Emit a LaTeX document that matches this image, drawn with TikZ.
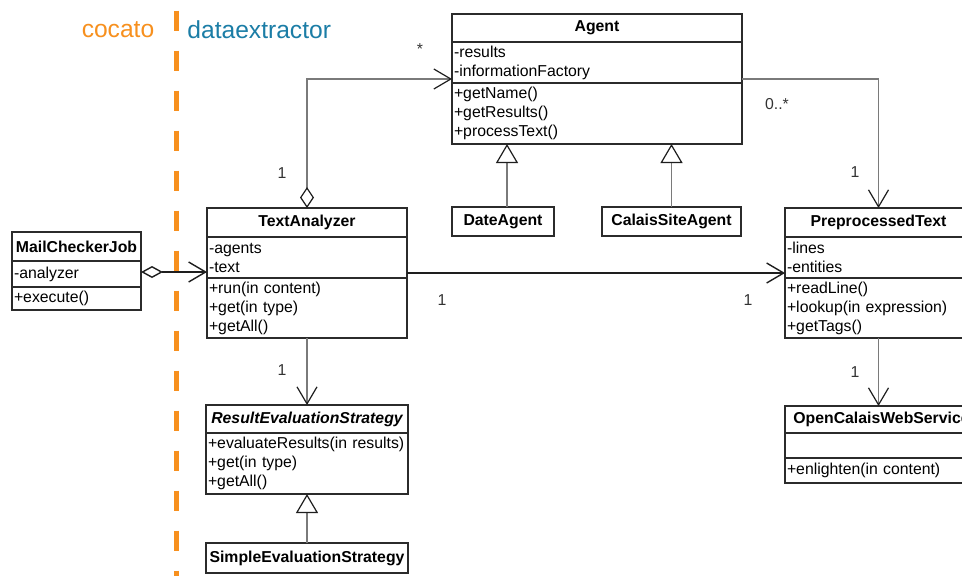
\documentclass[tikz,border=0pt]{standalone}
\usepackage{fontspec}
\setmainfont{Liberation Sans}
\usetikzlibrary{arrows.meta,calc}
\definecolor{boxc}{HTML}{2B2B2B}
\definecolor{connc}{HTML}{7A7A7A}
\definecolor{darkc}{HTML}{1E1E1E}
\definecolor{orangec}{HTML}{F7901E}
\definecolor{bluec}{HTML}{1B7DA6}
\definecolor{lblc}{HTML}{333333}
\tikzset{
  box/.style={draw=boxc, line width=0.9pt, inner sep=0pt, outer sep=0pt, anchor=north west},
  ttl/.style={box, font=\bfseries\fontsize{7.9}{9.5}\selectfont, align=center},
  mem/.style={box, font=\fontsize{7.9}{9.5}\selectfont, align=left, text width=#1, inner xsep=1pt},
  lbl/.style={font=\fontsize{7.9}{9.5}\selectfont, text=lblc, inner sep=0pt},
  barb/.tip={Straight Barb[length=8.5pt,width=10pt,color=darkc]},
  assoc/.style={draw=connc, line width=0.6pt, -barb},
  assocdark/.style={draw=darkc, line width=0.7pt, -barb},
  gen/.style={draw=connc, line width=0.6pt, -{Triangle[open, length=9.5pt, width=11pt, color=darkc]}},
}
\begin{document}
\begin{tikzpicture}[x=0.5pt,y=-0.5pt]
\path[use as bounding box, fill=white] (0,0) rectangle (962,575);
\clip (0,0) rectangle (962,575);

% package labels and separator
\node[font=\fontsize{12.3}{14}\selectfont, text=orangec, inner sep=0pt] (cocato) at (118,30) {cocato};
\node[font=\fontsize{12.3}{14}\selectfont, text=bluec, inner sep=0pt, anchor=west] (dataex) at (187,30) {dataextractor};
\draw[orangec, line width=2.5pt, dash pattern=on 10pt off 10pt] (176,10.5) -- (176,580);

% Agent
\node[ttl, minimum width=145pt, minimum height=14pt] (agent) at (452,14) {Agent};
\node[mem=143pt, minimum height=20.5pt] (agentA) at (agent.south west) {-results\\-informationFactory};
\node[mem=143pt, minimum height=30.5pt] (agentM) at (agentA.south west) {+getName()\\+getResults()\\+processText()};

% DateAgent, CalaisSiteAgent
\node[ttl, minimum width=51pt, minimum height=14.5pt] (da) at (452,207) {DateAgent};
\node[ttl, minimum width=69.5pt, minimum height=14.5pt] (csa) at (602,207) {CalaisSiteAgent};

% TextAnalyzer
\node[ttl, minimum width=100pt, minimum height=14.5pt] (ta) at (207,208) {TextAnalyzer};
\node[mem=98pt, minimum height=20.5pt] (taA) at (ta.south west) {-agents\\-text};
\node[mem=98pt, minimum height=30pt] (taM) at (taA.south west) {+run(in content)\\+get(in type)\\+getAll()};

% MailCheckerJob
\node[ttl, minimum width=64.5pt, minimum height=14.5pt] (mcj) at (12,232) {MailCheckerJob};
\node[mem=62.5pt, minimum height=13pt] (mcjA) at (mcj.south west) {-analyzer};
\node[mem=62.5pt, minimum height=11.5pt] (mcjM) at (mcjA.south west) {+execute()};

% ResultEvaluationStrategy
\node[ttl, font=\bfseries\itshape\fontsize{7.9}{9.5}\selectfont, minimum width=101pt, minimum height=14pt] (res) at (206,405) {ResultEvaluationStrategy};
\node[mem=99pt, minimum height=30.5pt] (resM) at (res.south west) {+evaluateResults(in results)\\+get(in type)\\+getAll()};

% SimpleEvaluationStrategy
\node[ttl, minimum width=101pt, minimum height=15pt] (ses) at (206,543) {SimpleEvaluationStrategy};

% PreprocessedText
\node[ttl, minimum width=93.5pt, minimum height=14.5pt] (pt) at (785,208) {PreprocessedText};
\node[mem=91.5pt, minimum height=20.5pt] (ptA) at (pt.south west) {-lines\\-entities};
\node[mem=91.5pt, minimum height=30pt] (ptM) at (ptA.south west) {+readLine()\\+lookup(in expression)\\+getTags()};

% OpenCalaisWebService (cut off at the right edge, as in the reference)
\node[ttl, minimum width=96.5pt, minimum height=13.5pt] (oc) at (785,406) {OpenCalaisWebService};
\node[mem=94.5pt, minimum height=12.5pt] (ocA) at (oc.south west) {};
\node[mem=94.5pt, minimum height=12.5pt] (ocM) at (ocA.south west) {+enlighten(in content)};

% connectors
\draw[assocdark, {Diamond[open, length=11pt, width=6pt, color=darkc]}-barb]
  ([yshift=1pt]mcjA.east) -- ([yshift=1pt]mcjA.east -| ta.west);
\draw[assoc, {Diamond[open, length=10.5pt, width=7pt, color=darkc]}-barb]
  (ta.north) |- ([yshift=2pt]agentA.south west);
\draw[assoc] ([yshift=2pt]agentA.south east) -| (pt.north);
\draw[assocdark] ([yshift=2.5pt]taA.south east) -- ([yshift=2.5pt]ptA.south west);
\draw[assoc] (taM.south) -- (res.north);
\draw[assoc] (ptM.south) -- (ptM.south |- oc.north);
\draw[gen] ([xshift=2pt]da.north) -- ([xshift=2pt]da.north |- agentM.south);
\draw[gen] (csa.north) -- (csa.north |- agentM.south);
\draw[gen] (ses.north) -- (resM.south);

% multiplicities
\node[lbl] (m1) at (282,173) {1};
\node[lbl] (m2) at (420,49) {*};
\node[lbl] (m3) at (777,104) {0..*};
\node[lbl] (m4) at (855,172) {1};
\node[lbl] (m5) at (442,300) {1};
\node[lbl] (m6) at (748,300) {1};
\node[lbl] (m7) at (282,370) {1};
\node[lbl] (m8) at (855,372) {1};
\end{tikzpicture}
\end{document}
